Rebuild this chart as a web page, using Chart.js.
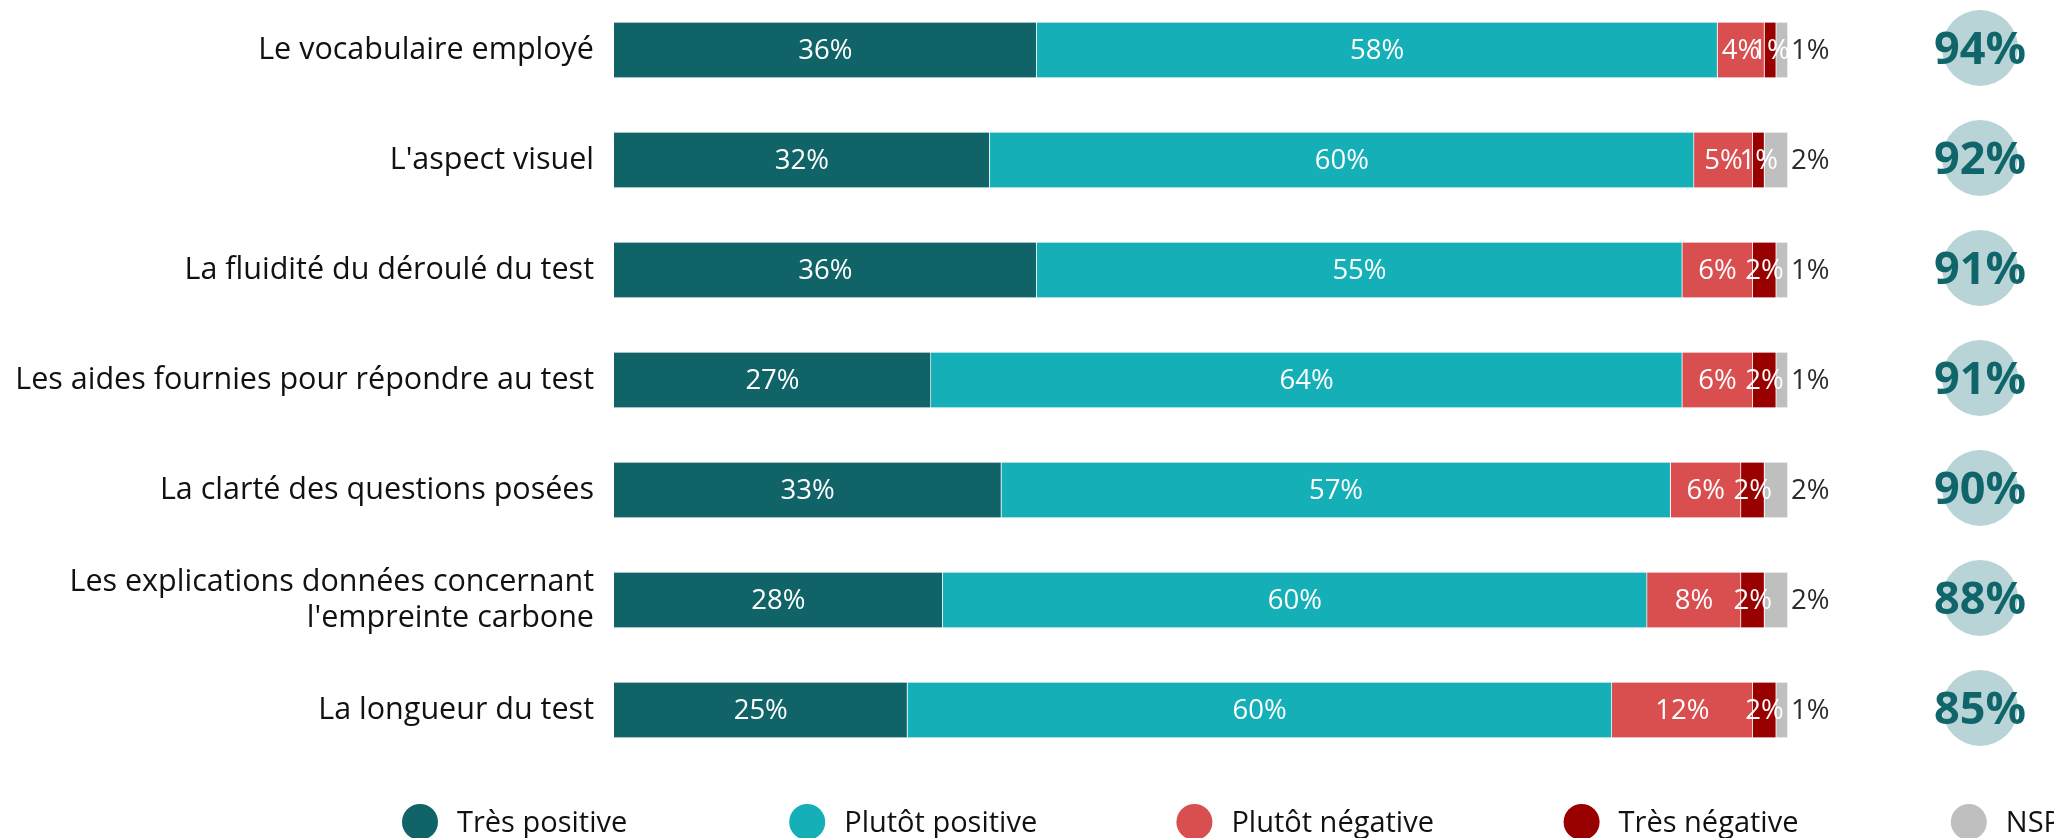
<!DOCTYPE html>
<html lang="fr">
<head>
<meta charset="utf-8">
<title>Appréciation du test</title>
<script src="https://cdn.jsdelivr.net/npm/chart.js@4/dist/chart.umd.min.js"></script>
<style>
  html, body { margin: 0; padding: 0; background: #fff; overflow: hidden; }
  #wrap { position: relative; width: 2054px; height: 838px; }
</style>
</head>
<body>
<div id="wrap"><canvas id="chart"></canvas></div>
<script>
const categories = [
  'Le vocabulaire employé',
  "L'aspect visuel",
  'La fluidité du déroulé du test',
  'Les aides fournies pour répondre au test',
  'La clarté des questions posées',
  ['Les explications données concernant', "l'empreinte carbone"],
  'La longueur du test',
];
const seriesNames = ['Très positive', 'Plutôt positive', 'Plutôt négative', 'Très négative', 'NSP'];
const tresPositive = [36, 32, 36, 27, 33, 28, 25];
const plutotPositive = [58, 60, 55, 64, 57, 60, 60];
const plutotNegative = [4, 5, 6, 6, 6, 8, 12];
const tresNegative = [1, 1, 2, 2, 2, 2, 2];
const nsp = [1, 2, 1, 1, 2, 2, 1];
// share of positive answers, shown in the bubbles on the right
const totalPositive = [94, 92, 91, 91, 90, 88, 85];

const COLORS = {
  tresPos: '#106467',
  plutotPos: '#14afb7',
  plutotNeg: '#d94f50',
  tresNeg: '#990000',
  nsp: '#bfbfbf',
  bubble: '#b8d4d6',
  bubbleText: '#10656a',
  text: '#111111',
  outside: '#2b2b2b',
};
const FONT = "'Open Sans', 'Noto Sans', sans-serif";

Chart.defaults.font.family = FONT;

function series(label, data, color) {
  return {
    label,
    data,
    backgroundColor: color,
    borderColor: 'rgba(255,255,255,0.55)',
    borderWidth: { left: 0, right: 1, top: 0, bottom: 0 },
    borderSkipped: false,
    barThickness: 55,
    clip: false,
  };
}

// segment values written on the bars, NSP goes outside on the right
const barLabels = {
  id: 'barLabels',
  afterDatasetsDraw(chart) {
    const ctx = chart.ctx;
    const last = chart.data.datasets.length - 1;
    ctx.save();
    ctx.font = `27.5px ${FONT}`;
    ctx.textBaseline = 'middle';
    chart.data.datasets.forEach((ds, di) => {
      chart.getDatasetMeta(di).data.forEach((bar, i) => {
        const text = ds.data[i] + '%';
        if (di === last) {
          ctx.fillStyle = COLORS.outside;
          ctx.textAlign = 'left';
          ctx.fillText(text, bar.x + 3, bar.y + 1);
        } else {
          ctx.fillStyle = '#ffffff';
          ctx.textAlign = 'center';
          ctx.fillText(text, (bar.base + bar.x) / 2, bar.y + 1);
        }
      });
    });
    ctx.restore();
  },
};

// bubbles with the total of positive answers
const positiveBubbles = {
  id: 'positiveBubbles',
  afterDraw(chart) {
    const ctx = chart.ctx;
    const yScale = chart.scales.y;
    const cx = chart.chartArea.right + 192;
    ctx.save();
    totalPositive.forEach((v, i) => {
      const cy = yScale.getPixelForValue(i) - 2;
      ctx.beginPath();
      ctx.arc(cx, cy, 38, 0, Math.PI * 2);
      ctx.fillStyle = COLORS.bubble;
      ctx.fill();
      ctx.fillStyle = COLORS.bubbleText;
      ctx.font = `bold 45px ${FONT}`;
      ctx.textAlign = 'center';
      ctx.textBaseline = 'middle';
      ctx.fillText(v + '%', cx, cy + 3);
    });
    ctx.restore();
  },
};

// evenly spaced legend along the bottom edge
const bottomLegend = {
  id: 'bottomLegend',
  afterDraw(chart) {
    const ctx = chart.ctx;
    const startX = 420;
    const step = 387.2;
    const y = 822;
    ctx.save();
    ctx.font = `29px ${FONT}`;
    ctx.textBaseline = 'middle';
    ctx.textAlign = 'left';
    chart.data.datasets.forEach((ds, i) => {
      const x = startX + i * step;
      ctx.beginPath();
      ctx.arc(x, y, 18, 0, Math.PI * 2);
      ctx.fillStyle = ds.backgroundColor;
      ctx.fill();
      ctx.fillStyle = COLORS.text;
      ctx.fillText(ds.label, x + 37, y + 2);
    });
    ctx.restore();
  },
};

new Chart(document.getElementById('chart'), {
  type: 'bar',
  data: {
    labels: categories,
    datasets: [
      series(seriesNames[0], tresPositive, COLORS.tresPos),
      series(seriesNames[1], plutotPositive, COLORS.plutotPos),
      series(seriesNames[2], plutotNegative, COLORS.plutotNeg),
      series(seriesNames[3], tresNegative, COLORS.tresNeg),
      series(seriesNames[4], nsp, COLORS.nsp),
    ],
  },
  options: {
    indexAxis: 'y',
    responsive: true,
    maintainAspectRatio: false,
    animation: false,
    layout: { padding: { left: 0, right: 266, top: 50, bottom: 128 } },
    scales: {
      x: { stacked: true, min: 0, max: 100, display: false },
      y: {
        stacked: true,
        offset: false,
        grid: { display: false },
        border: { display: false },
        ticks: {
          color: COLORS.text,
          padding: 12,
          font: { size: 30.5, lineHeight: 1.18 },
        },
        afterFit: (scale) => { scale.width = 614; },
      },
    },
    plugins: {
      legend: { display: false },
      tooltip: { enabled: false },
    },
  },
  plugins: [barLabels, positiveBubbles, bottomLegend],
});
</script>
</body>
</html>
